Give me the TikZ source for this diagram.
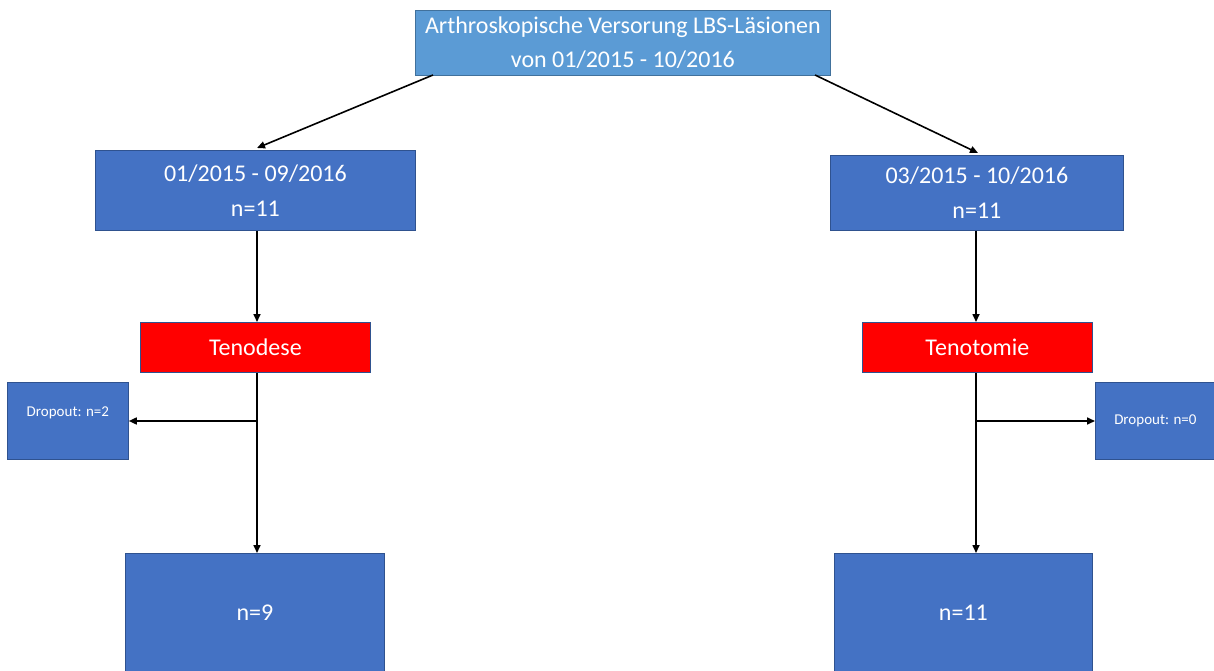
\documentclass[tikz,border=0pt]{standalone}
\usepackage{fontspec}
\setmainfont{Carlito}
\usetikzlibrary{arrows.meta}
\definecolor{topblue}{HTML}{5B9BD5}
\definecolor{midblue}{HTML}{4472C4}
\definecolor{edgeblue}{HTML}{2F528F}
\definecolor{edgetop}{HTML}{41719C}
\tikzset{
  box/.style={draw=edgeblue, line width=0.8pt, fill=midblue, text=white, align=center, inner sep=0pt, anchor=north west},
  conn/.style={-{Triangle[length=8pt,width=7pt]}, line width=1.6pt, black},
  big/.style={font=\fontsize{24}{35}\selectfont},
  small/.style={font=\fontsize{15}{17}\selectfont}
}
\begin{document}
\begin{tikzpicture}[x=1pt,y=-1pt]
\useasboundingbox (0,0) rectangle (1214,671);
% top
\node[box, fill=topblue, draw=edgetop, minimum width=415pt, minimum height=65pt, font=\fontsize{24}{34}\selectfont] (top) at (415,10) {Arthroskopische Versorung LBS-Läsionen\\von 01/2015 - 10/2016};
% second level
\node[box, big, minimum width=320pt, minimum height=80pt] (l1) at (95,150) {01/2015 - 09/2016\\n=11};
\node[box, big, minimum width=293pt, minimum height=75pt] (r1) at (830,155) {03/2015 - 10/2016\\n=11};
% procedures
\node[box, fill=red, big, minimum width=230pt, minimum height=50pt] (l2) at (140,322) {Tenodese};
\node[box, fill=red, big, minimum width=230pt, minimum height=50pt] (r2) at (862,322) {Tenotomie};
% dropouts
\node[box, small, minimum width=121pt, minimum height=77pt] (ld) at (7,382) {\raisebox{18pt}{Dropout: n=2}};
\node[box, small, minimum width=120pt, minimum height=77pt] (rd) at (1095,382) {Dropout: n=0};
% finals
\node[box, big, minimum width=259pt, minimum height=125pt] (l3) at (125,553) {\raisebox{6pt}{n=9}};
\node[box, big, minimum width=258pt, minimum height=125pt] (r3) at (834,553) {\raisebox{6pt}{n=11}};
% coordinates
\coordinate (ta) at (433,75);
\coordinate (tb) at (815,75);
\coordinate (la) at (257,148);
\coordinate (rb) at (978,153);
\coordinate (lj) at (257,421);
\coordinate (rj) at (976,421);
% connectors
\draw[conn] (ta) -- (la);
\draw[conn] (tb) -- (rb);
\draw[conn] (l1.south -| la) -- (l2.north -| la);
\draw[conn] (r1.south -| rj) -- (r2.north -| rj);
\draw[conn] (l2.south -| la) -- (l3.north -| la);
\draw[conn] (r2.south -| rj) -- (r3.north -| rj);
\draw[conn] (lj) -- (ld.east |- lj);
\draw[conn] (rj) -- (rd.west |- rj);
\end{tikzpicture}
\end{document}
